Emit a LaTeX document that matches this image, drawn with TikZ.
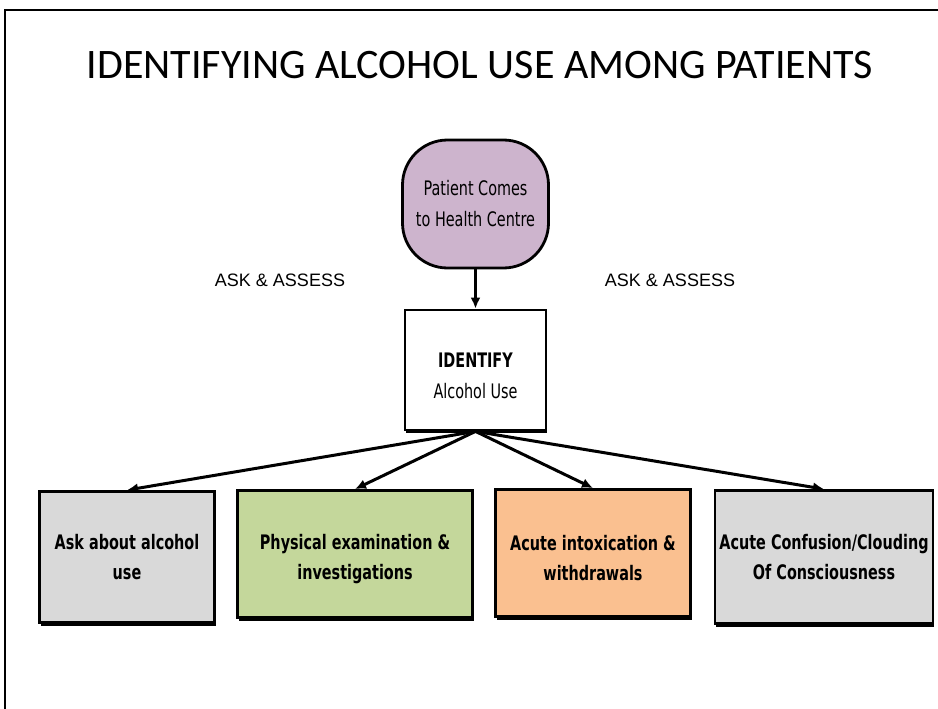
\documentclass[tikz,border=0pt]{standalone}
\usepackage{fontspec}
\setmainfont{Carlito}
\newfontfamily\narrowfont[FakeStretch=0.72]{DejaVu Sans}
\newfontfamily\labelfont{Liberation Sans}
\usepackage{xcolor}
\usetikzlibrary{arrows.meta,positioning,shadows}

\definecolor{lavender}{HTML}{CDB4CD}
\definecolor{leafgreen}{HTML}{C4D79B}
\definecolor{peach}{HTML}{FAC090}
\definecolor{lightgray}{HTML}{D9D9D9}

\newcommand{\lowstrut}{\rule{0pt}{26pt}}

\begin{document}
\begin{tikzpicture}[
        x=1pt, y=-1pt,
        box/.style={draw, rectangle, line width=2.8pt, align=center, inner sep=2pt,
            font=\narrowfont\bfseries\fontsize{20}{30}\selectfont,
            drop shadow={shadow xshift=1pt, shadow yshift=-3pt, fill=black, opacity=1}},
        start/.style={draw, rectangle, rounded corners=45pt, line width=2.8pt, fill=lavender,
            minimum width=146pt, minimum height=128pt, align=center,
            font=\narrowfont\fontsize{20}{31}\selectfont},
        link/.style={->, line width=3pt},
        >={Latex[length=11pt, width=10pt]}
    ]
        \useasboundingbox (0,0) rectangle (938,709);
        \draw[line width=2pt] (5,709) -- (5,10) -- (938,10);

        \node (title) at (480,65) {\fontsize{42}{44}\selectfont IDENTIFYING ALCOHOL USE AMONG PATIENTS};

        \node[start] (patient) at (475.5,204) {Patient Comes\\to Health Centre};
        \node[box, fill=white, minimum width=141pt, minimum height=120pt, font=\narrowfont\fontsize{20}{31}\selectfont]
            (identify) at (475.5,370) {\lowstrut\textbf{IDENTIFY}\\Alcohol Use};

        \node[font=\labelfont\fontsize{18}{20}\selectfont] (askl) at (280,280) {ASK \& ASSESS};
        \node[font=\labelfont\fontsize{18}{20}\selectfont] (askr) at (670,280) {ASK \& ASSESS};

        \node[box, fill=lightgray, minimum width=175pt, minimum height=131pt] (askabout) at (127,557) {Ask about alcohol\\use};
        \node[box, fill=leafgreen, minimum width=235pt, minimum height=127pt] (physical) at (355,554) {\lowstrut Physical examination \&\\investigations};
        \node[box, fill=peach, minimum width=195pt, minimum height=127pt] (acute) at (593,553) {\lowstrut Acute intoxication \&\\withdrawals};
        \node[box, fill=lightgray, minimum width=218pt, minimum height=133pt] (confusion) at (824,557) {Acute Confusion/Clouding\\Of Consciousness};

        \draw[link] (patient) -- (identify);
        \draw[link] (identify.south) -- (askabout.north);
        \draw[link] (identify.south) -- (physical.north);
        \draw[link] (identify.south) -- (acute.north);
        \draw[link] (identify.south) -- (confusion.north);
    \end{tikzpicture}
\end{document}
